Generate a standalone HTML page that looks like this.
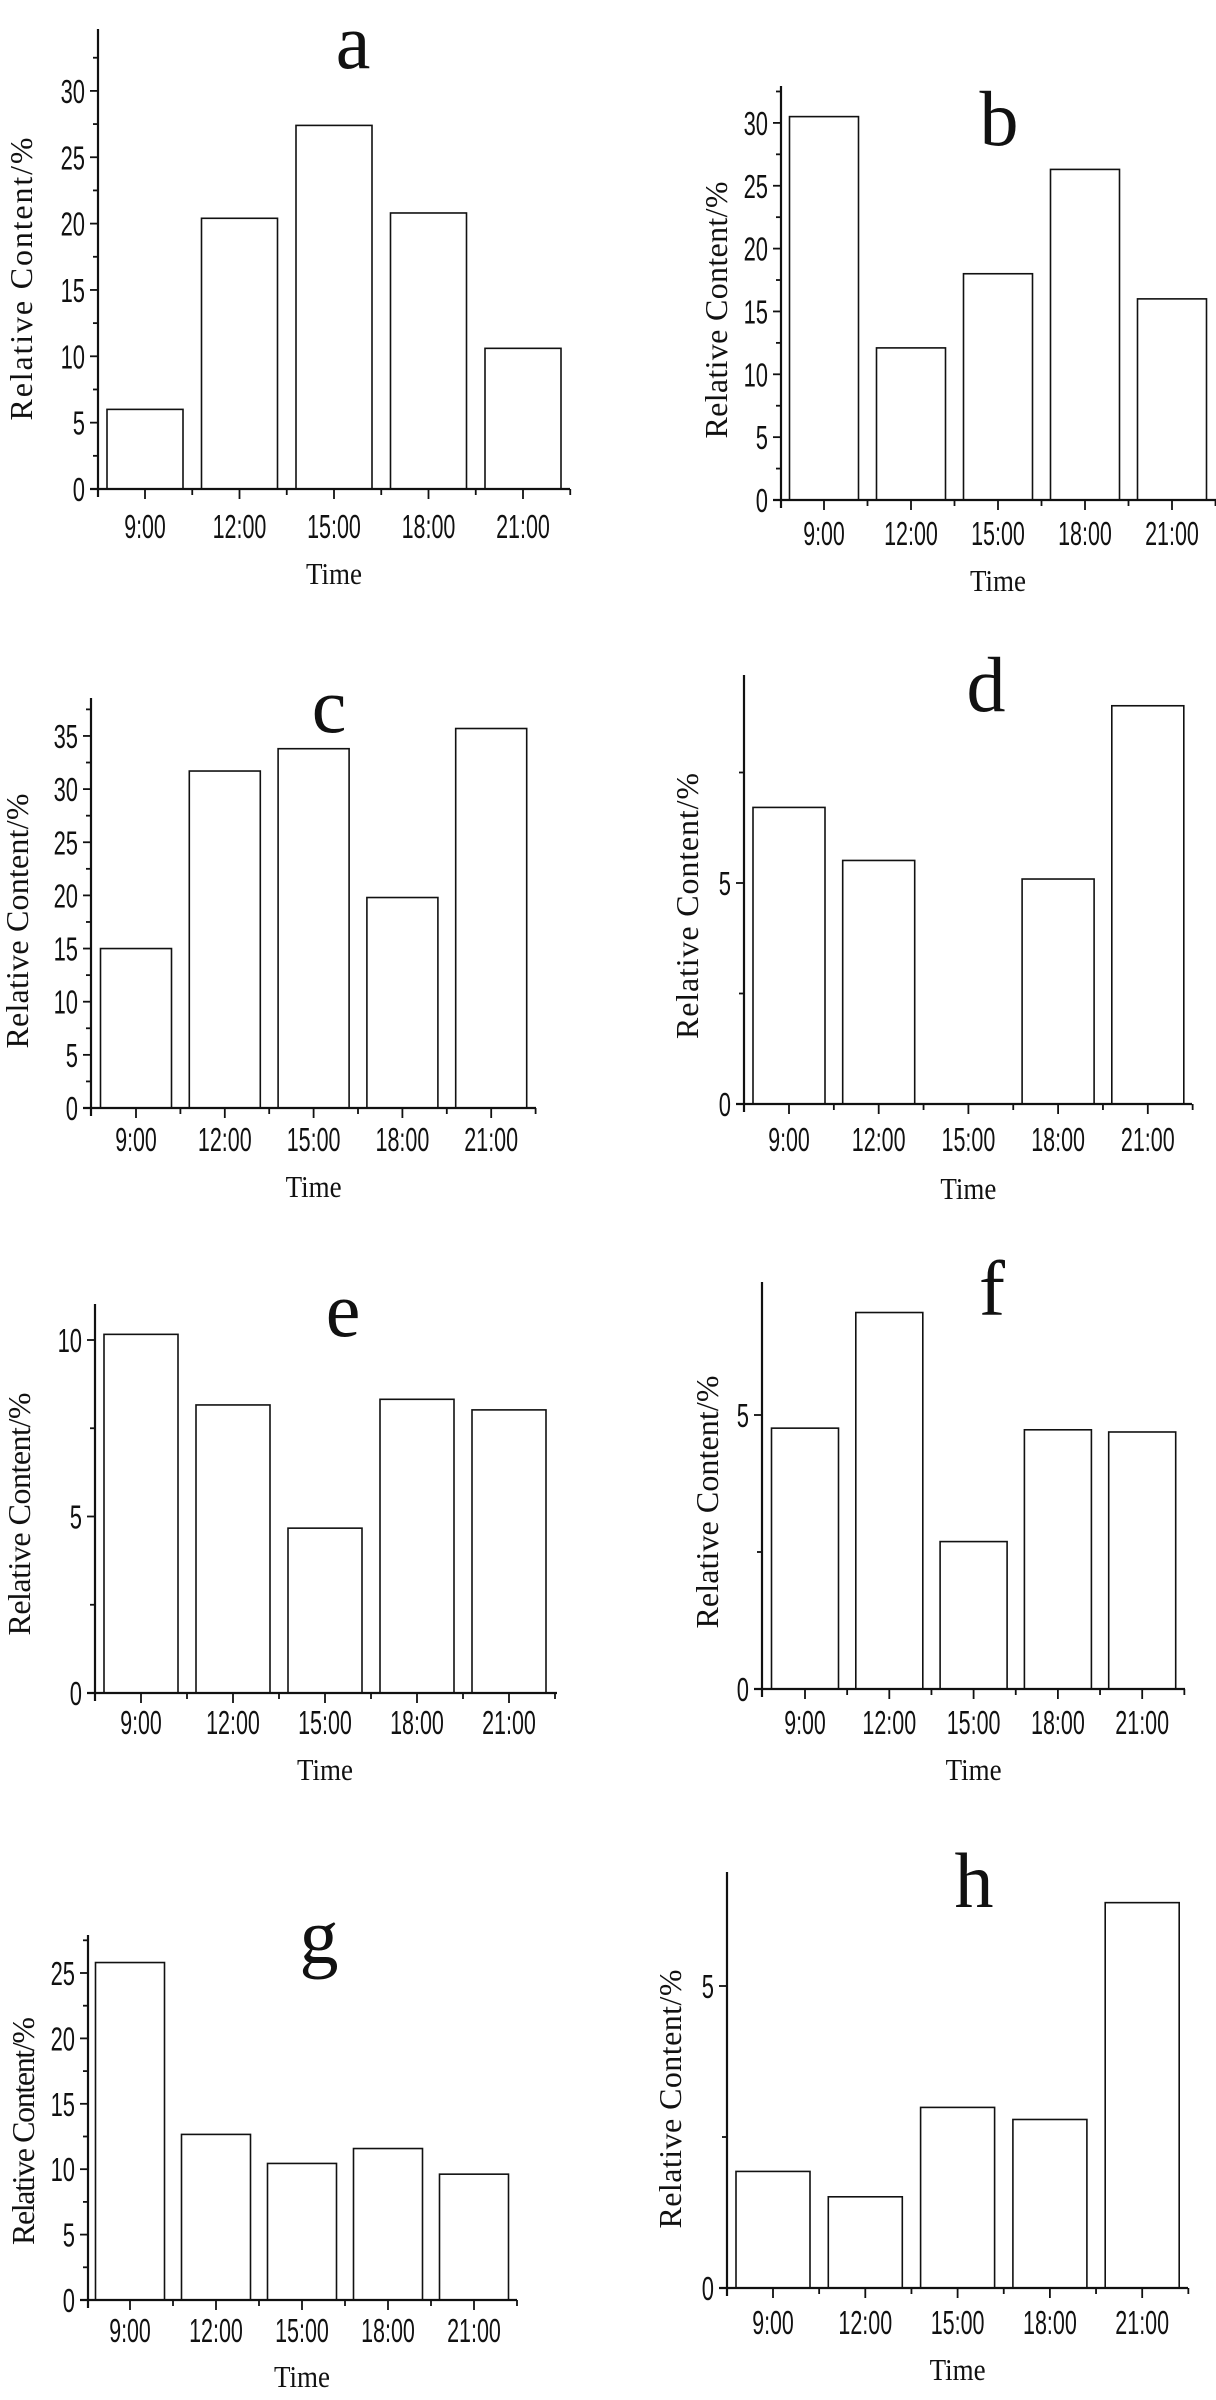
<!DOCTYPE html>
<html><head><meta charset="utf-8"><style>
html,body{margin:0;padding:0;background:#fff;}
svg{display:block;}
.tk{font-family:"Liberation Sans",sans-serif;font-size:33px;fill:#111;}
.yl{font-family:"Liberation Serif",serif;font-size:32px;fill:#111;}
.tt{font-family:"Liberation Serif",serif;font-size:78px;fill:#111;}
.xt{font-family:"Liberation Serif",serif;font-size:31px;fill:#111;}
</style></head><body>
<svg id="fig" width="1216" height="2400" viewBox="0 0 1216 2400" xmlns="http://www.w3.org/2000/svg"></svg>
<script>
const categories = ["9:00","12:00","15:00","18:00","21:00"];
const valuesA = [6.0, 20.4, 27.4, 20.8, 10.6];
const valuesB = [30.5, 12.1, 18.0, 26.3, 16.0];
const valuesC = [15.0, 31.7, 33.8, 19.8, 35.7];
const valuesD = [6.71, 5.51, 0, 5.09, 9.01];
const valuesE = [10.16, 8.16, 4.67, 8.32, 8.02];
const valuesF = [4.76, 6.87, 2.69, 4.73, 4.69];
const valuesG = [25.8, 12.66, 10.44, 11.58, 9.62];
const valuesH = [1.93, 1.51, 2.99, 2.79, 6.38];
const ticksA = [0,5,10,15,20,25,30];
const ticksB = [0,5,10,15,20,25,30];
const ticksC = [0,5,10,15,20,25,30,35];
const ticksD = [0,5];
const ticksE = [0,5,10];
const ticksF = [0,5];
const ticksG = [0,5,10,15,20,25];
const ticksH = [0,5];

const panels = [
 {id:"a",vals:valuesA,ticks:ticksA,ax:98,top:29,zero:489,unit:13.27,right:570,c0:145,step:94.5,bw:76,tx:353,ty:68,lb:538,tb:584,ylx:21,yly:279,yll:283},
 {id:"b",vals:valuesB,ticks:ticksB,ax:781,top:86,zero:500,unit:12.57,right:1216,c0:824,step:87,bw:69,tx:999,ty:145,lb:545,tb:591,ylx:716,yly:310,yll:257},
 {id:"c",vals:valuesC,ticks:ticksC,ax:91,top:698,zero:1108,unit:10.63,right:536,c0:136,step:88.8,bw:71,tx:329,ty:732,lb:1151,tb:1197,ylx:17,yly:921,yll:255},
 {id:"d",vals:valuesD,ticks:ticksD,ax:744,top:675,zero:1104,unit:44.2,right:1192,c0:789,step:89.7,bw:72,tx:986,ty:711,lb:1151,tb:1199,ylx:687,yly:906,yll:266},
 {id:"e",vals:valuesE,ticks:ticksE,ax:95,top:1304,zero:1693,unit:35.3,right:557,c0:141,step:92,bw:74,tx:343,ty:1336,lb:1734,tb:1780,ylx:19,yly:1514,yll:243},
 {id:"f",vals:valuesF,ticks:ticksF,ax:762,top:1282,zero:1689,unit:54.8,right:1185,c0:805,step:84.3,bw:67,tx:992,ty:1315,lb:1734,tb:1780,ylx:707,yly:1502,yll:253},
 {id:"g",vals:valuesG,ticks:ticksG,ax:88,top:1935,zero:2300,unit:13.08,right:517,c0:130,step:86,bw:69,tx:319,ty:1963,lb:2342,tb:2387,ylx:23,yly:2131,yll:228},
 {id:"h",vals:valuesH,ticks:ticksH,ax:727,top:1872,zero:2288,unit:60.4,right:1188,c0:773,step:92.3,bw:74,tx:974,ty:1907,lb:2334,tb:2380,ylx:670,yly:2099,yll:259}
];
const NS="http://www.w3.org/2000/svg";
const svg=document.getElementById("fig");
function mk(tag,attrs,parent){const e=document.createElementNS(NS,tag);for(const k in attrs)e.setAttribute(k,attrs[k]);parent.appendChild(e);return e;}
function tlen(s){let w=0;for(const ch of s)w+=(ch===":"?5:12.2);return w;}
panels.forEach(p=>{
  const g=mk("g",{},svg);
  
  
  const y=v=>p.zero-v*p.unit;
  const x=i=>p.c0+i*p.step;
  p.vals.forEach((v,i)=>{
    if(v<=0)return;
    const r=mk("rect",{x:x(i)-p.bw/2,y:y(v),width:p.bw,height:p.zero-y(v),fill:"#fff",stroke:"#111","stroke-width":1.6},g);
    
    
  });
  const ya=mk("line",{x1:p.ax,y1:p.top,x2:p.ax,y2:p.zero+8,stroke:"#111","stroke-width":2.2},g);
  
  
  const xa=mk("line",{x1:p.ax-8,y1:p.zero,x2:p.right,y2:p.zero,stroke:"#111","stroke-width":2.2},g);
  
  
  const tstep=p.ticks.length>1?p.ticks[1]-p.ticks[0]:5;
  for(let v=tstep/2;y(v)>=p.top;v+=tstep){
    const isMajor=Math.abs((v/tstep)-Math.round(v/tstep))<1e-6;
    mk("line",{x1:p.ax-(isMajor?8:5),y1:y(v),x2:p.ax,y2:y(v),stroke:"#111","stroke-width":1.8},g);
  }
  p.ticks.forEach(t=>{
    mk("line",{x1:p.ax-8,y1:y(t),x2:p.ax,y2:y(t),stroke:"#111","stroke-width":1.8},g);
    const s=String(t);
    const tx=mk("text",{x:p.ax-13,y:y(t)+12,"text-anchor":"end",class:"tk",textLength:tlen(s),lengthAdjust:"spacingAndGlyphs"},g);
    tx.textContent=s;
    
    
  });
  categories.forEach((c,i)=>{
    mk("line",{x1:x(i),y1:p.zero,x2:x(i),y2:p.zero+10,stroke:"#111","stroke-width":1.8},g);
    mk("line",{x1:x(i)+p.step/2,y1:p.zero,x2:x(i)+p.step/2,y2:p.zero+6,stroke:"#111","stroke-width":1.8},g);
    const tx=mk("text",{x:x(i),y:p.lb,"text-anchor":"middle",class:"tk",textLength:tlen(c),lengthAdjust:"spacingAndGlyphs"},g);
    tx.textContent=c;
    
    
  });
  const xt=mk("text",{x:(x(0)+x(4))/2,y:p.tb,"text-anchor":"middle",class:"xt",textLength:56,lengthAdjust:"spacingAndGlyphs"},g);
  xt.textContent="Time";
  
  
  const yl=mk("text",{x:0,y:0,"text-anchor":"middle","dominant-baseline":"central",class:"yl",textLength:p.yll,lengthAdjust:"spacing",transform:`translate(${p.ylx},${p.yly}) rotate(-90)`},g);
  yl.textContent="Relative Content/%";
  
  
  const tt=mk("text",{x:p.tx,y:p.ty,"text-anchor":"middle",class:"tt"},g);
  tt.textContent=p.id;
  
  
});
</script>
</body></html>
